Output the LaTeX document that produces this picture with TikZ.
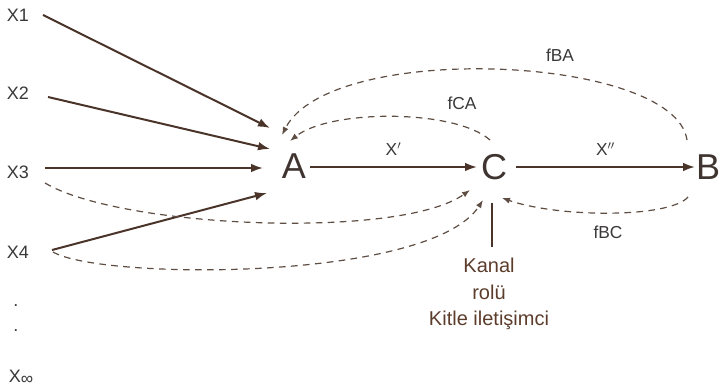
\documentclass[tikz,border=0pt]{standalone}
\usepackage{fontspec}
\setmainfont{Liberation Sans}
\usetikzlibrary{arrows.meta}

\definecolor{arrowbrown}{HTML}{4A3429}
\definecolor{dashbrown}{HTML}{5E4D43}
\definecolor{labelgray}{HTML}{3A3838}
\definecolor{actorbrown}{HTML}{3F3430}
\definecolor{textbrown}{HTML}{5C3D2C}

\begin{document}
\begin{tikzpicture}[x=0.75pt,y=-0.75pt,
		src/.style={font=\fontsize{13.5}{15}\selectfont,text=labelgray,inner sep=0pt},
		actor/.style={font=\fontsize{27}{30}\selectfont,text=actorbrown,inner sep=0pt},
		fb/.style={font=\fontsize{13}{14}\selectfont,text=labelgray,inner sep=0pt},
		flow/.style={draw=arrowbrown,line width=1.5pt,-{Latex[length=9pt,width=6.5pt]}},
		back/.style={draw=dashbrown,line width=0.9pt,dash pattern=on 5pt off 4pt,-{Latex[length=6pt,width=4.5pt]}}]
			\useasboundingbox (0,0) rectangle (723,391);

			% sources
			\node[src] (x1) at (18,15) {X1};
			\node[src] (x2) at (18,93) {X2};
			\node[src] (x3) at (18,172) {X3};
			\node[src] (x4) at (18,252) {X4};
			\node[src] (d1) at (16,306) {.};
			\node[src] (d2) at (16,331) {.};
			\node[src] (xinf) at (21,377) {X\raisebox{-1.5pt}{\fontsize{13}{13}\selectfont ∞}};

			\node[actor] (A) at (294,166) {A};
			\node[actor] (C) at (494,167) {C};
			\node[actor] (B) at (708,167) {B};

			\draw[flow] ([shift={(25,0)}]x1.center) to ([shift={(-24,-38)}]A.center);
			\draw[flow] ([shift={(30,4)}]x2.center) to ([shift={(-24,-17)}]A.center);
			\draw[flow] ([shift={(27,-4)}]x3.center) to ([shift={(-31,2)}]A.center);
			\draw[flow] ([shift={(34,-2)}]x4.center) to ([shift={(-27,27)}]A.center);
			\draw[flow] ([shift={(16,1)}]A.center) to node[fb,above=8pt] {X$'$} ([shift={(-17,0)}]C.center);
			\draw[flow] ([shift={(22,0)}]C.center) to node[fb,above=8pt] {X$''$} ([shift={(-13,0)}]B.center);

			% feedback
			\draw[back] ([shift={(-4,-27)}]C.center) .. controls (455,109) and (330,109) .. ([shift={(-4,-25)}]A.center);
			\draw[back] ([shift={(-21,-27)}]B.center) .. controls (675,55) and (330,40) .. ([shift={(-12,-31)}]A.center);
			\draw[back] ([shift={(-20,30)}]B.center) .. controls (670,218) and (560,218) .. ([shift={(8,31)}]C.center);
			\draw[back] ([shift={(27,11)}]x3.center) .. controls (120,228) and (400,240) .. ([shift={(-24,23)}]C.center);
			\draw[back] ([shift={(35,0)}]x4.center) .. controls (100,280) and (430,282) .. ([shift={(-11,33)}]C.center);

			\node[fb] (fca) at (462,103) {fCA};
			\node[fb] (fba) at (560,55) {fBA};
			\node[fb] (fbc) at (608,232) {fBC};

			\node[font=\fontsize{15}{20}\selectfont,text=textbrown,align=center,inner sep=0pt] (kanal) at (489,294) {Kanal\\rolü\\Kitle iletişimci};
			\draw[draw=arrowbrown,line width=1.5pt] ([shift={(-2,36)}]C.center) -- ([shift={(3,-11)}]kanal.north);
		\end{tikzpicture}
\end{document}
